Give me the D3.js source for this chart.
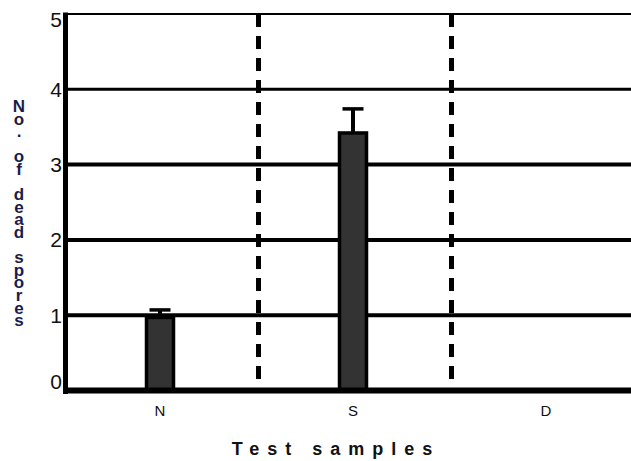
<!DOCTYPE html>
<html><head><meta charset="utf-8">
<script src="https://cdn.jsdelivr.net/npm/d3@7"></script>
<style>html,body{margin:0;padding:0;background:#fff;}svg{display:block;}</style>
</head><body>
<svg id="chart" width="631" height="461"></svg>
<script>
const categories = ["N", "S", "D"];
const meanValues = [0.97, 3.42, null];
const errorTops = [1.07, 3.74, null];
const yTickValues = [0, 1, 2, 3, 4, 5];
const yTitle = "No. of dead spores";
const xTitle = "Test samples";

const svg = d3.select("#chart");
const W = 631, H = 461;
const x = d3.scaleBand().domain(categories).range([63.5, 642.5]).padding(0);
const y = d3.scaleLinear().domain([0, 5]).range([390.5, 14]);

// gridlines
svg.append("g").selectAll("line").data(yTickValues.filter(v => v > 0)).join("line")
  .attr("x1", 63).attr("x2", W)
  .attr("y1", d => y(d)).attr("y2", d => y(d))
  .attr("stroke", "#000")
  .attr("stroke-width", d => d === 5 ? 2 : d === 4 ? 3 : 4);

// dashed separators between categories
svg.append("g").selectAll("line").data(categories.slice(1)).join("line")
  .attr("x1", d => x(d) + 2).attr("x2", d => x(d) + 2)
  .attr("y1", y(5)).attr("y2", y(0))
  .attr("stroke", "#000").attr("stroke-width", 5)
  .attr("stroke-dasharray", "13,9");

// bars
const data = categories.map((c, i) => ({c, v: meanValues[i], e: errorTops[i]})).filter(d => d.v != null);
const barW = 27;
const bars = svg.append("g");
bars.selectAll("rect").data(data).join("rect")
  .attr("x", d => x(d.c) + x.bandwidth() / 2 - barW / 2)
  .attr("y", d => y(d.v))
  .attr("width", barW)
  .attr("height", d => y(0) - y(d.v))
  .attr("fill", "#333")
  .attr("stroke", "#000").attr("stroke-width", 3.5);

// error bars
const eb = svg.append("g").attr("stroke", "#000");
eb.selectAll("line.stem").data(data).join("line").attr("class", "stem")
  .attr("x1", d => x(d.c) + x.bandwidth() / 2).attr("x2", d => x(d.c) + x.bandwidth() / 2)
  .attr("y1", d => y(d.e)).attr("y2", d => y(d.v))
  .attr("stroke-width", 4);
eb.selectAll("line.cap").data(data).join("line").attr("class", "cap")
  .attr("x1", d => x(d.c) + x.bandwidth() / 2 - 10.5).attr("x2", d => x(d.c) + x.bandwidth() / 2 + 10.5)
  .attr("y1", d => y(d.e)).attr("y2", d => y(d.e))
  .attr("stroke-width", 3.5);

// axes lines
svg.append("line").attr("x1", 65.5).attr("x2", 65.5).attr("y1", 12.5).attr("y2", 394)
  .attr("stroke", "#000").attr("stroke-width", 5);
svg.append("line").attr("x1", 63).attr("x2", W).attr("y1", y(0)).attr("y2", y(0))
  .attr("stroke", "#000").attr("stroke-width", 6);

// y tick labels
svg.append("g").selectAll("text").data(yTickValues).join("text")
  .attr("x", 56).attr("y", d => Math.min(Math.max(y(d), 19), 381))
  .attr("dy", "0.36em")
  .attr("text-anchor", "middle")
  .attr("font-family", "'Liberation Sans Narrow', 'Liberation Sans', Arial, sans-serif")
  .attr("font-size", 21)
  .attr("fill", "#111")
  .text(d => d);

// x tick labels
svg.append("g").selectAll("text").data(categories).join("text")
  .attr("x", d => x(d) + x.bandwidth() / 2).attr("y", 416)
  .attr("text-anchor", "middle")
  .attr("font-family", "'Liberation Sans', Arial, sans-serif")
  .attr("font-size", 15)
  .attr("fill", "#111")
  .text(d => d);

// x title
svg.append("text").attr("x", 336).attr("y", 455)
  .attr("text-anchor", "middle")
  .attr("font-family", "'Liberation Sans', Arial, sans-serif")
  .attr("font-size", 18).attr("font-weight", "bold")
  .attr("letter-spacing", 8)
  .attr("fill", "#111")
  .text(xTitle);

// y title: one vertical text with upright, tightly packed characters
svg.append("text")
  .attr("x", 19).attr("y", 97)
  .attr("writing-mode", "vertical-rl")
  .style("text-orientation", "upright")
  .attr("letter-spacing", -6.4)
  .attr("font-family", "'Liberation Sans', Arial, sans-serif")
  .attr("font-size", 17).attr("font-weight", "bold")
  .attr("fill", "#1c1c4c")
  .text(yTitle);
</script>
</body></html>
